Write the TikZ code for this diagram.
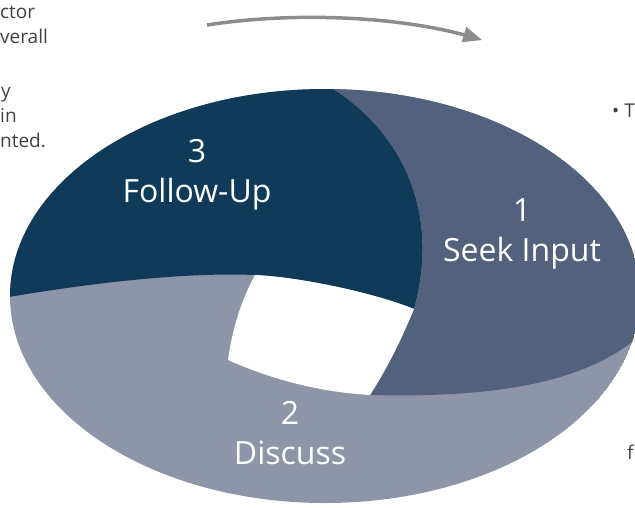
\documentclass[tikz,border=0pt]{standalone}
\usepackage{fontspec}
\setmainfont{Open Sans}
\usetikzlibrary{arrows, positioning}
\definecolor{stagedark}{RGB}{15,58,90}
\definecolor{stagemid}{RGB}{82,97,124}
\definecolor{stagelight}{RGB}{143,149,168}
\definecolor{notegray}{RGB}{64,64,64}
\definecolor{arrowgray}{RGB}{140,140,140}
\tikzset{
	stage/.style={align=center, text=white, inner sep=0pt, font=\fontsize{32}{40}\selectfont},
	note/.style={anchor=base west, inner sep=0pt, text=notegray, font=\fontsize{19}{23}\selectfont},
	flow/.style={line width=3.5pt,->,>=triangle 45, draw=arrowgray}
}

\begin{document}
\begin{tikzpicture}[x=1pt, y=-1pt]
			\useasboundingbox (0,0) rectangle (635,507);
			
			% Ring
			\begin{scope}
				\clip (325,296) ellipse [x radius=315, y radius=207];
				\fill [stagelight] (325,296) ellipse [x radius=315, y radius=207];
				\fill [stagedark] (-20,302) .. controls (80,284) and (180,272) .. (255,275)
					.. controls (300,277) and (375,293) .. (414,309)
					.. controls (440,215) and (405,135) .. (332,88)
					-- (332,60) -- (-20,60) -- cycle;
				\fill [stagemid] (332,88) .. controls (405,135) and (440,215) .. (414,309)
					.. controls (402,338) and (388,367) .. (370,395)
					.. controls (490,398) and (600,385) .. (655,320)
					-- (700,320) -- (700,60) -- (332,60) -- cycle;
				\fill [white] (255,275) .. controls (300,277) and (375,293) .. (414,309)
					.. controls (402,338) and (388,367) .. (370,395)
					.. controls (320,392) and (273,380) .. (228,360)
					.. controls (232,330) and (241,301) .. (255,275) -- cycle;
			\end{scope}
			
			% Stages
			\node (S3) [stage] at (197,175) {3\\Follow-Up};
			\node (S1) [stage] at (522,234) {1\\Seek Input};
			\node (S2) [stage] at (290,433) {2\\Discuss};
			
			% Arrow
			\coordinate (Start) at (207,25);
			\coordinate (End) at (482,40);
			\draw [flow] (Start) .. controls (290,12) and (400,15) .. (End);
			
			% Notes
			\node (N1) [note] at (0,18) {ctor};
			\node (N2) [note] at (0,43) {verall};
			\node (N3) [note] at (1,97) {y};
			\node (N4) [note] at (0,122) {in};
			\node (N5) [note] at (0,147) {nted.};
			\node (N6) [note] at (612,117) {• T};
			\node (N7) [note] at (627,459) {f};
		\end{tikzpicture}
\end{document}
